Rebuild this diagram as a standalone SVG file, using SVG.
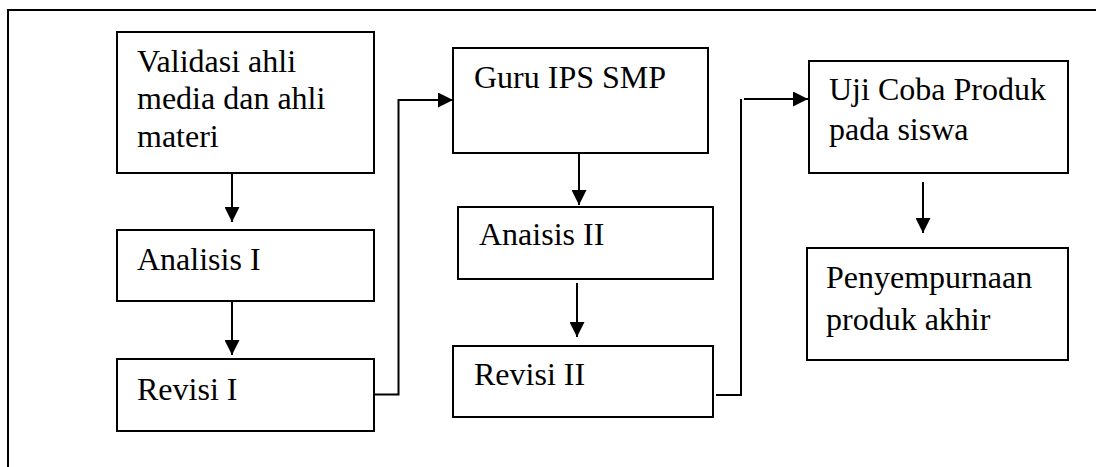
<svg xmlns="http://www.w3.org/2000/svg" width="1096" height="467" viewBox="0 0 1096 467">
  <defs>
    <marker id="arrow" markerWidth="15" markerHeight="15" refX="15" refY="7.5" orient="auto" markerUnits="userSpaceOnUse">
      <path d="M0,0 L15,7.5 L0,15 z" fill="#000"/>
    </marker>
    <style>
      .box { fill: #fff; stroke: #000; stroke-width: 2; }
      .lbl { font-family: "Liberation Serif", "Times New Roman", serif; font-size: 32px; fill: #000; }
      .conn { fill: none; stroke: #000; stroke-width: 2; }
      .frame { fill: none; stroke: #000; stroke-width: 2; }
    </style>
  </defs>
  <rect width="1096" height="467" fill="#fff"/>
  <rect class="frame" x="8" y="10" width="1200" height="600"/>

  <g id="node-validasi">
    <rect class="box" x="117" y="32" width="257" height="141"/>
    <text class="lbl" x="137" y="72">Validasi ahli</text>
    <text class="lbl" x="137" y="109">media dan ahli</text>
    <text class="lbl" x="137" y="147">materi</text>
  </g>
  <g id="node-analisis1">
    <rect class="box" x="117" y="230" width="257" height="71"/>
    <text class="lbl" x="137" y="270">Analisis I</text>
  </g>
  <g id="node-revisi1">
    <rect class="box" x="117" y="359" width="257" height="72"/>
    <text class="lbl" x="137" y="400">Revisi I</text>
  </g>
  <g id="node-guru">
    <rect class="box" x="453" y="48" width="255" height="105"/>
    <text class="lbl" x="474" y="88">Guru IPS SMP</text>
  </g>
  <g id="node-analisis2">
    <rect class="box" x="458" y="207" width="255" height="72"/>
    <text class="lbl" x="479" y="245">Anaisis II</text>
  </g>
  <g id="node-revisi2">
    <rect class="box" x="453" y="346" width="260" height="71"/>
    <text class="lbl" x="474" y="385">Revisi II</text>
  </g>
  <g id="node-ujicoba">
    <rect class="box" x="809" y="61" width="259" height="112"/>
    <text class="lbl" x="829" y="100">Uji Coba Produk</text>
    <text class="lbl" x="829" y="140">pada siswa</text>
  </g>
  <g id="node-penyempurnaan">
    <rect class="box" x="807" y="248" width="261" height="112"/>
    <text class="lbl" x="826" y="288">Penyempurnaan</text>
    <text class="lbl" x="826" y="330">produk akhir</text>
  </g>

  <g id="connectors">
    <line class="conn" x1="232" y1="173" x2="232" y2="222" marker-end="url(#arrow)"/>
    <line class="conn" x1="232" y1="301" x2="232" y2="355" marker-end="url(#arrow)"/>
    <polyline class="conn" points="374,394.5 398.5,394.5 398.5,100 453,100" marker-end="url(#arrow)"/>
    <line class="conn" x1="579" y1="153" x2="579" y2="205" marker-end="url(#arrow)"/>
    <line class="conn" x1="577" y1="283" x2="577" y2="337" marker-end="url(#arrow)"/>
    <polyline class="conn" points="716,395 741,395 741,99"/>
    <line class="conn" x1="744" y1="99" x2="808" y2="99" marker-end="url(#arrow)"/>
    <line class="conn" x1="923" y1="182" x2="923" y2="233" marker-end="url(#arrow)"/>
  </g>
</svg>
